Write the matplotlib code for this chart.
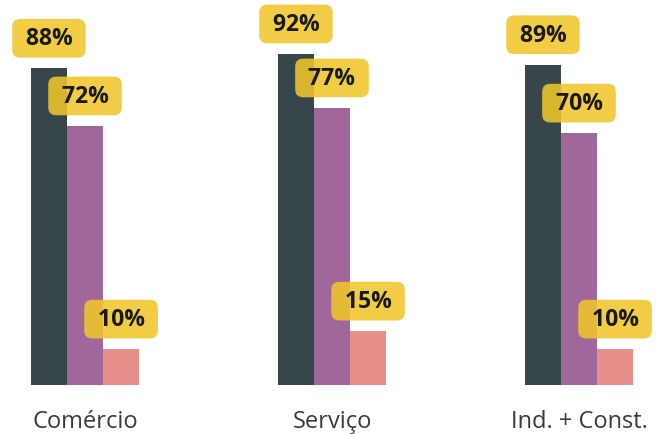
import numpy as np
import matplotlib.pyplot as plt

categories = ["Comércio", "Serviço", "Ind. + Const."]
serie_a = [88, 92, 89]
serie_b = [72, 77, 70]
serie_c = [10, 15, 10]

cores = ["#37464b", "#a0679b", "#e78f8a"]
cor_caixa = "#f0c52a"
px_por_pct = 3.6

fig = plt.figure(figsize=(6.59, 4.35), dpi=100)
ax = fig.add_axes([0, 1 - 386 / 435, 1, 386 / 435])

x = np.arange(len(categories))
w = 0.146
for k, (vals, cor) in enumerate(zip([serie_a, serie_b, serie_c], cores)):
    pos = x + (k - 1) * w
    ax.bar(pos, vals, width=w, color=cor, zorder=2)
    for px, v in zip(pos, vals):
        ax.annotate(f" {v}% ", (px, v), xytext=(0, 21.5), textcoords="offset points",
                    ha="center", va="center", fontsize=16.5, fontweight="bold",
                    family="Open Sans", color="#1a1a1a", zorder=5,
                    bbox=dict(boxstyle="round,pad=0.32,rounding_size=0.35",
                              fc=cor_caixa, ec="none", alpha=0.88))

ax.set_xlim(-85 / 247, (659 - 85) / 247)
ax.set_ylim(0, 386 / px_por_pct)
ax.set_xticks(x)
ax.set_xticklabels(categories, fontsize=17, family="Open Sans", color="#3a3a3a")
ax.tick_params(axis="x", length=0, pad=17)
ax.set_yticks([])
for s in ax.spines.values():
    s.set_visible(False)

fig.savefig("out.png", dpi=100)
